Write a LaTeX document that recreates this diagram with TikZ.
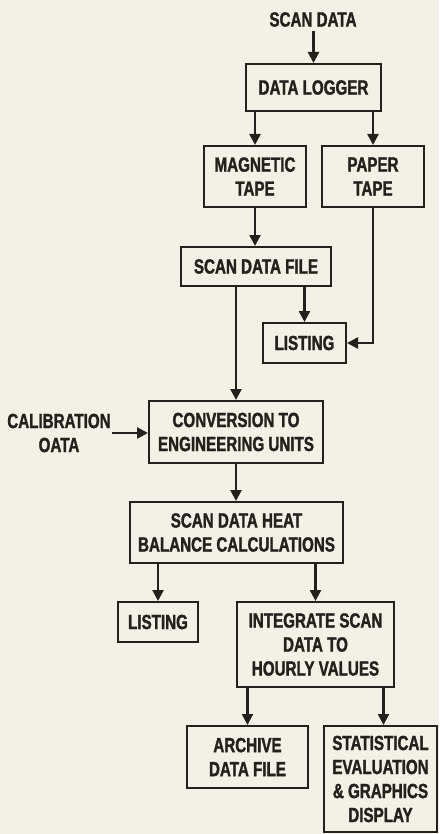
\documentclass[tikz,border=0pt]{standalone}
\usepackage{fontspec}
\setmainfont{Liberation Sans}[FakeStretch=0.74, BoldFeatures={FakeBold=1.5}]
\usetikzlibrary{arrows.meta}
\definecolor{bg}{RGB}{243,241,230}
\definecolor{ink}{RGB}{38,32,28}
\begin{document}
\begin{tikzpicture}[x=1pt,y=-1pt,
  every node/.style={text=ink, font=\fontsize{20.5}{24}\selectfont\bfseries, align=center},
  box/.style={draw=ink, line width=2pt, inner sep=0pt},
  arr/.style={draw=ink, line width=2.4pt, -{Triangle[length=11pt,width=11pt]}}]
\fill[bg] (0,0) rectangle (439,834);
\useasboundingbox (0,0) rectangle (439,834);
% nodes
\node[inner sep=4pt] (scan) at (313,19.5) {SCAN DATA};
\node[box, minimum width=135pt, minimum height=47pt] (logger) at (313.5,87.5) {DATA LOGGER};
\node[box, minimum width=102pt, minimum height=61pt] (mag) at (255,176.5) {MAGNETIC\\TAPE};
\node[box, minimum width=102pt, minimum height=61pt] (paper) at (373,176.5) {PAPER\\TAPE};
\node[box, minimum width=150pt, minimum height=39pt] (sdf) at (256,266.5) {SCAN DATA FILE};
\node[box, minimum width=83pt, minimum height=40pt] (list1) at (304.5,343) {LISTING};
\node[box, minimum width=174pt, minimum height=62pt] (conv) at (236,432) {CONVERSION TO\\ENGINEERING UNITS};
\node[inner sep=1pt] (calib) at (59,433) {CALIBRATION\\OATA};
\node[box, minimum width=213pt, minimum height=61pt] (heat) at (236.5,532.5) {SCAN DATA HEAT\\BALANCE CALCULATIONS};
\node[box, minimum width=80pt, minimum height=40pt] (list2) at (158,622) {LISTING};
\node[box, minimum width=157pt, minimum height=85pt] (integ) at (315.5,644.5) {INTEGRATE SCAN\\DATA TO\\HOURLY VALUES};
\node[box, minimum width=121pt, minimum height=62pt] (arch) at (247.5,757) {ARCHIVE\\DATA FILE};
\node[box, minimum width=113pt, minimum height=106pt] (stat) at (380.5,779) {STATISTICAL\\EVALUATION\\\& GRAPHICS\\DISPLAY};
% connectors
\draw[arr] (scan.south -| logger.north) -- (logger.north);
\draw[arr] (logger.south -| mag.north) -- (mag.north);
\draw[arr] (logger.south -| paper.north) -- (paper.north);
\draw[arr] (mag.south) -- (mag.south |- sdf.north);
\draw[arr] (sdf.south -| conv.north) -- (conv.north);
\draw[arr] (sdf.south -| list1.north) -- (list1.north);
\draw[arr] (paper.south) |- (list1.east);
\draw[arr] (calib.east) -- (calib.east -| conv.west);
\draw[arr] (conv.south) -- (conv.south |- heat.north);
\draw[arr] (heat.south -| list2.north) -- (list2.north);
\draw[arr] (heat.south -| integ.north) -- (integ.north);
\draw[arr] (integ.south -| arch.north) -- (arch.north);
\draw[arr] ([xshift=3pt]integ.south -| stat.north) -- ([xshift=3pt]stat.north);
\end{tikzpicture}
\end{document}
